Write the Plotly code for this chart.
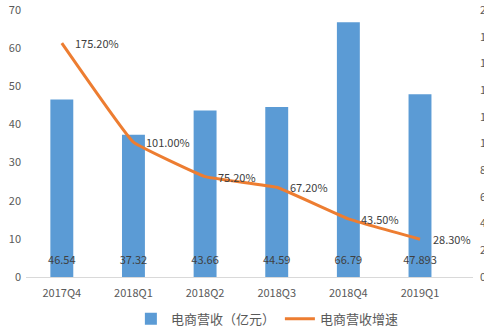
import plotly.graph_objects as go

quarters = ["2017Q4", "2018Q1", "2018Q2", "2018Q3", "2018Q4", "2019Q1"]
revenue = [46.54, 37.32, 43.66, 44.59, 66.79, 47.893]
revenue_labels = ["46.54", "37.32", "43.66", "44.59", "66.79", "47.893"]
growth = [175.2, 101.0, 75.2, 67.2, 43.5, 28.3]

left_ticks = [0, 10, 20, 30, 40, 50, 60, 70]
right_ticks = [0, 20, 40, 60, 80, 100, 120, 140, 160, 180, 200]

FONT = "Microsoft YaHei, Noto Sans CJK SC, sans-serif"
BLUE = "#5B9BD5"
ORANGE = "#ED7D31"
TEXT = "#404040"
AXIS_TEXT = "#595959"

fig = go.Figure()

fig.add_trace(go.Bar(
    x=quarters, y=revenue, name="电商营收（亿元）",
    marker=dict(color=BLUE, line=dict(width=0)),
    yaxis="y",
))

# value labels sit near the base of each bar
fig.add_trace(go.Scatter(
    x=quarters, y=[4.0] * len(quarters), mode="text",
    text=revenue_labels, textposition="middle center",
    textfont=dict(family=FONT, size=11, color=TEXT),
    showlegend=False, hoverinfo="skip", yaxis="y",
))

fig.add_trace(go.Scatter(
    x=quarters, y=growth, name="电商营收增速",
    mode="lines",
    line=dict(color=ORANGE, width=3, shape="spline", smoothing=0.25),
    yaxis="y2",
))

# growth labels, offset to the right of each point
for q, v in zip(quarters, growth):
    fig.add_annotation(
        x=q, y=v, xref="x", yref="y2", text=f"{v:.2f}%",
        showarrow=False, xanchor="left", yanchor="middle", xshift=11,
        font=dict(family=FONT, size=11, color=TEXT),
    )

fig.update_layout(
    width=484, height=333,
    margin=dict(l=26, r=11, t=10, b=56, autoexpand=False),
    paper_bgcolor="white", plot_bgcolor="white",
    font=dict(family=FONT, size=11, color=AXIS_TEXT),
    bargap=0.68,
    showlegend=True,
    legend=dict(
        orientation="h", x=0.54, xanchor="center", y=-0.1, yanchor="top",
        font=dict(family="Noto Sans CJK SC, sans-serif", size=13, color=AXIS_TEXT),
        itemwidth=30, traceorder="normal",
    ),
    xaxis=dict(
        automargin=False,
        showgrid=False, showline=True, linecolor="#D9D9D9", linewidth=1,
        ticks="", tickfont=dict(size=11, color=AXIS_TEXT),
        ticklabelstandoff=6,
    ),
    yaxis=dict(
        automargin=False,
        range=[0, 70], tickvals=left_ticks, showgrid=False, zeroline=False,
        showline=False, ticks="", tickfont=dict(size=11, color=AXIS_TEXT),
        ticklabelstandoff=4,
    ),
    yaxis2=dict(
        automargin=False,
        range=[0, 200], tickvals=right_ticks,
        ticktext=[f"{v}%" for v in right_ticks],
        overlaying="y", side="right", showgrid=False, zeroline=False,
        showline=False, ticks="", tickfont=dict(size=11, color=AXIS_TEXT),
        ticklabelstandoff=6,
    ),
)

fig.write_html("out.html")
